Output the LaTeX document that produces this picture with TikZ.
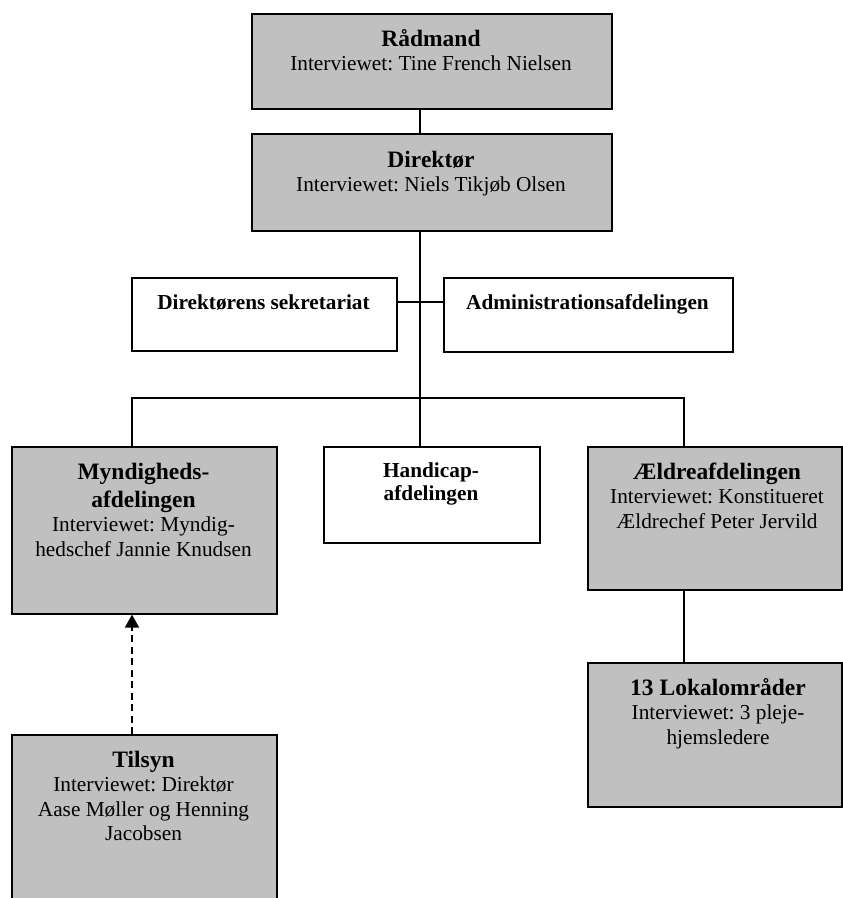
\documentclass[tikz,border=0pt]{standalone}
\usepackage{fontspec}
\setmainfont{Liberation Serif}
\usetikzlibrary{arrows.meta}
\definecolor{boxgray}{RGB}{192,192,192}
% bold heading line inside a box
\newcommand\boxtitle[1]{{\fontsize{23.5}{24.5}\selectfont\bfseries #1}}
% fixed first-line height so every box text starts at the same depth
\newcommand\firstline{\rule{0pt}{18pt}}
\frenchspacing
\begin{document}
\begin{tikzpicture}[x=1pt,y=-1pt,
  orgbox/.style={draw=black, line width=1.6pt, rectangle, inner sep=0pt, anchor=north west},
  grayfill/.style={fill=boxgray},
  boxtext/.style={anchor=north, align=center, inner sep=0pt,
    font=\fontsize{21.3}{24.5}\selectfont\frenchspacing},
  link/.style={line width=1.6pt, line cap=rect},
  dashlink/.style={line width=1.6pt, dash pattern=on 7pt off 4.5pt,
    -{Triangle[length=13pt,width=14pt]}}]
\useasboundingbox (0,0) rectangle (843,898);

% guide coordinates for the connector lines
\coordinate (spine) at (420,0);
\coordinate (mynddrop) at (132,0);
\coordinate (aeldredrop) at (684,0);
\coordinate (bus) at (0,398);
\coordinate (sidelink) at (0,302);

% boxes
\node[orgbox, grayfill, minimum width=360pt, minimum height=95pt] (raadmand) at (251,13) {};
\node[orgbox, grayfill, minimum width=360pt, minimum height=97pt] (direktor) at (251,133) {};
\node[orgbox, minimum width=265pt, minimum height=73pt] (sekr) at (131,277) {};
\node[orgbox, minimum width=289pt, minimum height=74pt] (admin) at (443,277) {};
\node[orgbox, grayfill, minimum width=265pt, minimum height=167pt] (mynd) at (11,446) {};
\node[orgbox, minimum width=216pt, minimum height=96pt] (handicap) at (323,446) {};
\node[orgbox, grayfill, minimum width=254pt, minimum height=143pt] (aeldre) at (587,446) {};
\node[orgbox, grayfill, minimum width=254pt, minimum height=144pt] (lokal) at (587,662) {};
\node[orgbox, grayfill, minimum width=265pt, minimum height=190pt] (tilsyn) at (11,734) {};

% box texts
\node[boxtext] (raadmandtxt) at (431,28)
  {\firstline\boxtitle{Rådmand}\\Interviewet: Tine French Nielsen};
\node[boxtext] (direktortxt) at (431,149)
  {\firstline\boxtitle{Direktør}\\Interviewet: Niels Tikjøb Olsen};
\node[boxtext] (sekrtxt) at (263.5,291)
  {\firstline\bfseries Direktørens sekretariat};
\node[boxtext] (admintxt) at (587.5,291)
  {\firstline\bfseries Administrationsafdelingen};
\node[boxtext] (myndtxt) at (143.5,461)
  {\firstline\boxtitle{Myndigheds-}\\[3.5pt]\boxtitle{afdelingen}\\Interviewet: Myndig-\\hedschef Jannie Knudsen};
\node[boxtext] (handicaptxt) at (431,459)
  {\firstline\bfseries Handicap-\\[-1.5pt]\bfseries afdelingen};
\node[boxtext] (aeldretxt) at (717,461)
  {\firstline\boxtitle{Ældreafdelingen}\\Interviewet: Konstitueret\\Ældrechef Peter Jervild};
\node[boxtext] (lokaltxt) at (718,677)
  {\firstline\boxtitle{13 Lokalområder}\\Interviewet: 3 pleje-\\hjemsledere};
\node[boxtext] (tilsyntxt) at (143.5,749)
  {\firstline\boxtitle{Tilsyn}\\Interviewet: Direktør\\Aase Møller og Henning\\Jacobsen};

% connectors
\draw[link] (raadmand.south -| spine) -- (direktor.north -| spine);
\draw[link] (direktor.south -| spine) -- (spine |- bus);
\draw[link] (sekr.east |- sidelink) -- (admin.west |- sidelink);
\draw[link] (mynddrop |- bus) -- (aeldredrop |- bus);
\draw[link] (mynddrop |- bus) -- (mynddrop |- mynd.north);
\draw[link] (spine |- bus) -- (spine |- handicap.north);
\draw[link] (aeldredrop |- bus) -- (aeldredrop |- aeldre.north);
\draw[link] (aeldredrop |- aeldre.south) -- (aeldredrop |- lokal.north);
\draw[dashlink] (mynddrop |- tilsyn.north) -- (mynddrop |- mynd.south);
\end{tikzpicture}
\end{document}
